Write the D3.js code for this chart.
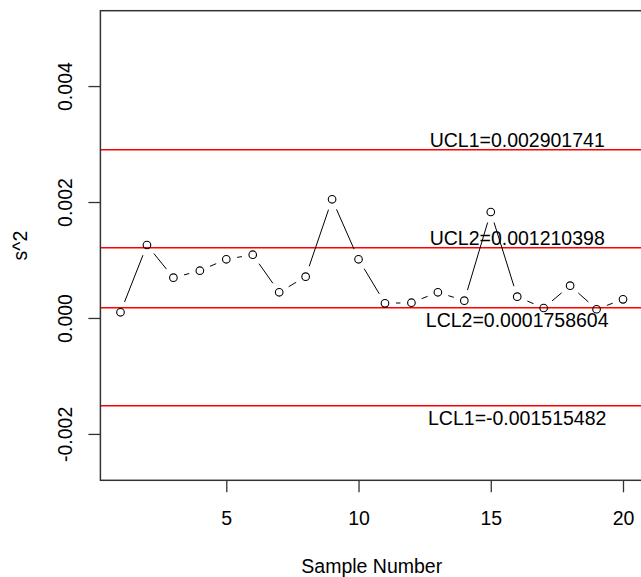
<!DOCTYPE html>
<html>
<head>
<meta charset="utf-8">
<script src="https://cdn.jsdelivr.net/npm/d3@7"></script>
<style>
  body { margin: 0; background: #fff; }
  text { font-family: "Liberation Sans", Arial, sans-serif; fill: #000; }
</style>
</head>
<body>
<div id="chart"></div>
<script>
// datos
const sampleNumber = d3.range(1, 21);
const s2 = [
  0.000098, 0.001259, 0.000695, 0.000815, 0.001012, 0.001091, 0.000443,
  0.000712, 0.002047, 0.001012, 0.000253, 0.000263, 0.000443, 0.000298,
  0.001828, 0.000367, 0.000172, 0.000557, 0.00015, 0.000322
];
const limitNames = ["UCL1", "UCL2", "LCL2", "LCL1"];
const limitValues = [0.002901741, 0.001210398, 0.0001758604, -0.001515482];
const limitLabels = ["UCL1=0.002901741", "UCL2=0.001210398", "LCL2=0.0001758604", "LCL1=-0.001515482"];
const xTicks = [5, 10, 15, 20];
const yTicks = [-0.002, 0, 0.002, 0.004];

const width = 641;
const height = 577;
const plotLeft = 100.4, plotRight = 643.1, plotTop = 10.7, plotBottom = 480.3;
const fontSize = 19.5;

const x = d3.scaleLinear().domain([0.24, 20.76]).range([plotLeft, plotRight]);
const y = d3.scaleLinear().domain([-0.0028, 0.0053]).range([plotBottom, plotTop]);

const svg = d3.select("#chart")
  .append("svg")
  .attr("width", width)
  .attr("height", height);

// lineas de control
svg.selectAll(".limit")
  .data(limitValues)
  .enter()
  .append("line")
  .attr("class", "limit")
  .attr("x1", plotLeft)
  .attr("x2", plotRight)
  .attr("y1", (d) => y(d))
  .attr("y2", (d) => y(d))
  .attr("stroke", "#ff0000")
  .attr("stroke-width", 1.5);

svg.selectAll(".limit-label")
  .data(limitValues)
  .enter()
  .append("text")
  .attr("class", "limit-label")
  .attr("x", x(16))
  .attr("y", (d) => y(d))
  .attr("dy", (d, i) => (limitNames[i].startsWith("U") ? -3 : 19))
  .attr("text-anchor", "middle")
  .style("font-size", fontSize + "px")
  .text((d, i) => limitLabels[i]);

// tipo "b": segmentos con hueco alrededor de cada punto
const pts = sampleNumber.map((n, i) => [x(n), y(s2[i])]);
const gap = 11;
const segs = [];
for (let i = 0; i < pts.length - 1; i++) {
  const [x1, y1] = pts[i];
  const [x2, y2] = pts[i + 1];
  const len = Math.hypot(x2 - x1, y2 - y1);
  if (len <= 2 * gap) continue;
  const ux = (x2 - x1) / len, uy = (y2 - y1) / len;
  segs.push([x1 + ux * gap, y1 + uy * gap, x2 - ux * gap, y2 - uy * gap]);
}
svg.selectAll(".seg")
  .data(segs)
  .enter()
  .append("line")
  .attr("class", "seg")
  .attr("x1", (d) => d[0])
  .attr("y1", (d) => d[1])
  .attr("x2", (d) => d[2])
  .attr("y2", (d) => d[3])
  .attr("stroke", "#000")
  .attr("stroke-width", 1);

svg.selectAll(".pt")
  .data(s2)
  .enter()
  .append("circle")
  .attr("class", "pt")
  .attr("cx", (d, i) => x(sampleNumber[i]))
  .attr("cy", (d) => y(d))
  .attr("r", 3.8)
  .attr("fill", "none")
  .attr("stroke", "#000")
  .attr("stroke-width", 1.1);

// caja
svg.append("rect")
  .attr("x", plotLeft)
  .attr("y", plotTop)
  .attr("width", plotRight - plotLeft)
  .attr("height", plotBottom - plotTop)
  .attr("fill", "none")
  .attr("stroke", "#333")
  .attr("stroke-width", 1.5);

// ejes
const xAxis = svg.append("g")
  .attr("transform", `translate(0,${plotBottom})`)
  .call(d3.axisBottom(x).tickValues(xTicks).tickSize(12));
xAxis.select(".domain").remove();
xAxis.selectAll("line").attr("stroke", "#333").attr("stroke-width", 1.3);
xAxis.selectAll("text")
  .attr("dy", null)
  .attr("y", 45)
  .style("font-size", fontSize + "px")
  .style("font-family", "Liberation Sans, Arial, sans-serif")
  .attr("fill", "#000");

const yAxis = svg.append("g")
  .attr("transform", `translate(${plotLeft},0)`)
  .call(d3.axisLeft(y).tickValues(yTicks).tickSize(12).tickFormat((d) => d.toFixed(3)));
yAxis.select(".domain").remove();
yAxis.selectAll("line").attr("stroke", "#333").attr("stroke-width", 1.3);
yAxis.selectAll("text")
  .attr("x", null)
  .attr("dy", null)
  .attr("transform", "translate(-28.5,0) rotate(-90)")
  .attr("text-anchor", "middle")
  .style("font-size", fontSize + "px")
  .style("font-family", "Liberation Sans, Arial, sans-serif")
  .attr("fill", "#000");

// titulos de ejes
svg.append("text")
  .attr("x", (plotLeft + plotRight) / 2)
  .attr("y", 573)
  .attr("text-anchor", "middle")
  .style("font-size", fontSize + "px")
  .text("Sample Number");

svg.append("text")
  .attr("transform", `translate(27,${(plotTop + plotBottom) / 2}) rotate(-90)`)
  .attr("text-anchor", "middle")
  .style("font-size", fontSize + "px")
  .text("s^2");
</script>
</body>
</html>
